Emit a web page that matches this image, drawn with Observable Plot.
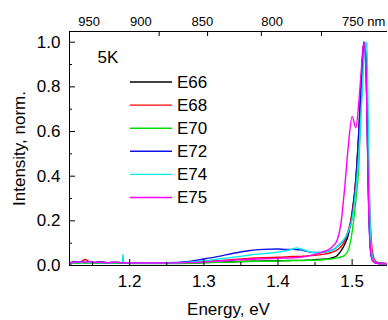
<!DOCTYPE html>
<html><head><meta charset="utf-8">
<script src="https://cdn.jsdelivr.net/npm/d3@7"></script>
<script src="https://cdn.jsdelivr.net/npm/@observablehq/plot@0.6"></script>
<style>body{margin:0;background:#fff} #chart{width:388px;height:320px}</style>
</head><body><div id="chart"></div>
<script>
// Energy grid (eV)
const energy = [
  1.119,1.122,1.126,1.130,1.135,1.140,1.146,1.152,1.160,1.170,1.180,1.190,1.191,1.192,1.200,1.220,1.250,
  1.280,1.300,1.320,1.340,1.360,1.380,1.400,1.410,1.420,1.425,1.430,1.440,1.450,1.460,1.470,1.475,
  1.480,1.485,1.490,1.495,1.500,1.505,1.509,1.512,1.514,1.516,1.518,1.519,1.520,1.522,1.525,1.528,1.532,1.538,1.548
];
const E66 = [
  0.004,0.010,0.013,0.011,0.014,0.012,0.013,0.011,0.012,0.011,0.012,0.011,0.011,0.011,0.010,0.010,0.010,
  0.011,0.013,0.015,0.017,0.019,0.020,0.021,0.022,0.023,0.023,0.023,0.024,0.026,0.028,0.032,0.036,
  0.045,0.065,0.095,0.14,0.24,0.38,0.58,0.78,0.92,1.0,0.95,0.86,0.70,0.33,0.07,0.022,0.012,0.009,0.008
];
const E68 = [
  0.006,0.014,0.016,0.013,0.018,0.027,0.016,0.014,0.015,0.013,0.014,0.013,0.013,0.013,0.012,0.012,0.012,
  0.014,0.018,0.022,0.027,0.032,0.035,0.037,0.038,0.040,0.040,0.041,0.043,0.046,0.050,0.056,0.062,
  0.070,0.085,0.11,0.16,0.23,0.39,0.60,0.80,0.93,1.0,0.96,0.88,0.76,0.46,0.16,0.05,0.018,0.011,0.009
];
const E70 = [
  0.003,0.008,0.011,0.010,0.012,0.011,0.012,0.010,0.011,0.010,0.010,0.010,0.010,0.010,0.009,0.009,0.009,
  0.010,0.012,0.014,0.016,0.018,0.019,0.020,0.021,0.022,0.022,0.022,0.023,0.024,0.026,0.029,0.031,
  0.034,0.038,0.046,0.07,0.15,0.29,0.45,0.70,0.88,1.0,0.96,0.90,0.75,0.38,0.08,0.022,0.011,0.008,0.007
];
const E72 = [
  0.005,0.015,0.018,0.014,0.017,0.015,0.018,0.014,0.016,0.013,0.015,0.013,0.013,0.013,0.012,0.012,0.012,
  0.018,0.029,0.041,0.055,0.066,0.072,0.074,0.072,0.072,0.071,0.070,0.062,0.058,0.059,0.066,0.072,
  0.085,0.10,0.118,0.15,0.217,0.38,0.60,0.80,0.93,1.0,0.95,0.88,0.70,0.32,0.06,0.02,0.011,0.009,0.008
];
const E74 = [
  0.004,0.012,0.014,0.012,0.015,0.013,0.014,0.012,0.013,0.012,0.013,0.013,0.050,0.013,0.012,0.011,0.011,
  0.015,0.021,0.029,0.037,0.046,0.053,0.060,0.066,0.074,0.079,0.075,0.064,0.057,0.059,0.066,0.072,
  0.085,0.10,0.12,0.155,0.21,0.34,0.50,0.68,0.80,0.92,0.99,1.0,0.97,0.60,0.12,0.03,0.012,0.009,0.008
];
const E75 = [
  0.006,0.013,0.017,0.014,0.016,0.015,0.017,0.013,0.015,0.012,0.014,0.012,0.012,0.012,0.011,0.011,0.011,
  0.013,0.016,0.020,0.024,0.028,0.030,0.032,0.033,0.035,0.036,0.037,0.042,0.050,0.060,0.075,0.09,
  0.115,0.19,0.35,0.54,0.668,0.617,0.73,0.86,0.95,1.0,0.93,0.84,0.66,0.30,0.06,0.02,0.011,0.008,0.007
];
const seriesNames = ["E66","E68","E70","E72","E74","E75"];
const seriesValues = [E66, E68, E70, E72, E74, E75];
const seriesColors = ["#000000","#ff0000","#00e000","#1010e8","#00eeee","#ff00ff"];
const tempLabel = "5K";
const xTitle = "Energy, eV";
const yTitle = "Intensity, norm.";
const xDomain = [1.1189, 1.5477];
const yDomain = [0, 1.048];
const xTicks = [1.2, 1.3, 1.4, 1.5];
const xMinorTicks = [1.15, 1.25, 1.35, 1.45];
const yTicks = [0, 0.2, 0.4, 0.6, 0.8, 1.0];
const yMinorTicks = [0.1, 0.3, 0.5, 0.7, 0.9];
const topTickNm = [1000, 950, 900, 850, 800];
const topLabels = ["950", "900", "850", "800", "750 nm"];
const topLabelEnergy = [1.1453, 1.215, 1.298, 1.392, 1.5155];

const rows = seriesNames.flatMap((name, i) =>
  energy.map((e, j) => ({series: name, energy: e, value: seriesValues[i][j]})));

const W = 388, H = 320, mL = 69, mR = 1, mT = 31, mB = 55;
const fh = H - mT - mB, fw = W - mL - mR;
const FONT = "'Liberation Sans', Arial, sans-serif";

const plot = Plot.plot({
  width: W, height: H,
  marginLeft: mL, marginRight: mR, marginTop: mT, marginBottom: mB,
  style: {fontFamily: FONT, fontSize: "17px", background: "#fff", color: "#000"},
  x: {domain: xDomain},
  y: {domain: yDomain},
  color: {domain: seriesNames, range: seriesColors},
  marks: [
    Plot.line(rows, {x: "energy", y: "value", z: "series", stroke: "series", curve: "monotone-x", strokeWidth: 1.4, clip: true}),
    Plot.ruleX([xDomain[0]], {stroke: "#000"}),
    Plot.ruleY([yDomain[0]], {stroke: "#000"}),
    Plot.ruleY([yDomain[1]], {stroke: "#000"}),
    Plot.tickX(xTicks, {x: d => d, insetTop: fh - 6, stroke: "#000"}),
    Plot.tickX(xMinorTicks, {x: d => d, insetTop: fh - 3, stroke: "#000"}),
    Plot.tickY(yTicks, {y: d => d, insetRight: fw - 6, stroke: "#000"}),
    Plot.tickY(yMinorTicks, {y: d => d, insetRight: fw - 3, stroke: "#000"}),
    Plot.tickX(topTickNm, {x: nm => 1239.84 / nm, insetBottom: fh - 5, stroke: "#000"}),
    Plot.axisX({ticks: xTicks, tickSize: 0, tickPadding: 9, tickFormat: d3.format(".1f"), label: null, fontSize: 17}),
    Plot.axisY({ticks: yTicks, tickSize: 0, tickPadding: 9, tickFormat: d3.format(".1f"), label: null, fontSize: 17}),
    Plot.text([xTitle], {text: d => d, frameAnchor: "bottom", dy: 49, lineAnchor: "bottom", textAnchor: "middle", fontSize: 17}),
    Plot.text([yTitle], {text: d => d, frameAnchor: "left", dx: -50, rotate: -90, lineAnchor: "middle", textAnchor: "middle", fontSize: 17}),
    Plot.text(topLabels, {x: (d, i) => topLabelEnergy[i], text: d => d, frameAnchor: "top",
      dy: -6, lineAnchor: "bottom", textAnchor: "middle", fontSize: 13}),
    Plot.text([tempLabel], {text: d => d, frameAnchor: "top-left", textAnchor: "start",
      dx: 28, dy: 31, lineAnchor: "bottom", fontSize: 17})
  ]
});

// Legend drawn into the same SVG
const svg = d3.select(plot);
const g = svg.append("g").attr("font-family", FONT).attr("font-size", 17).attr("text-anchor", "start");
seriesNames.forEach((n, i) => {
  const y = 82 + i * 23.1;
  g.append("line").attr("x1", 130).attr("x2", 172).attr("y1", y).attr("y2", y)
    .attr("stroke", seriesColors[i]).attr("stroke-width", 1.4);
  g.append("text").attr("x", 177).attr("y", y).attr("dy", "0.35em").attr("text-anchor", "start").attr("fill", "#000").text(n);
});
document.getElementById("chart").appendChild(plot);
</script>
</body></html>
